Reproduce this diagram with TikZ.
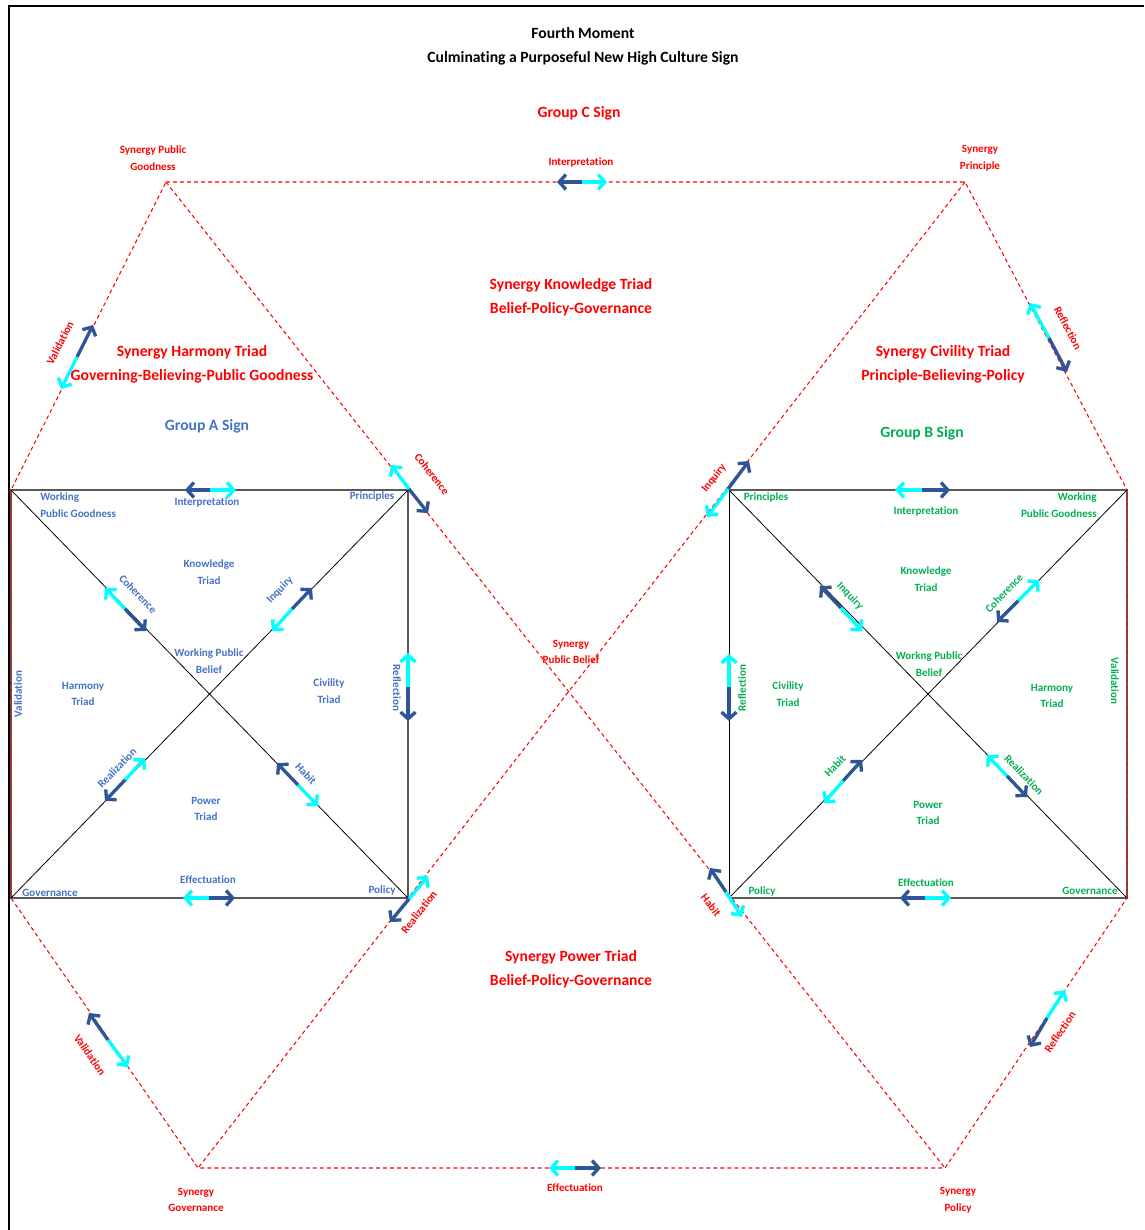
\documentclass[tikz,border=0pt]{standalone}
\usepackage{fontspec}
\setmainfont{Carlito}[Ligatures=NoCommon]
\usetikzlibrary{arrows.meta}
\definecolor{signred}{HTML}{FF0000}
\definecolor{signblue}{HTML}{4472C4}
\definecolor{signgreen}{HTML}{00B050}
\definecolor{darkarrow}{HTML}{2F5597}
\definecolor{lightarrow}{HTML}{00FFFF}

% two coloured halves from a middle point
\newcommand{\twoway}[5]{%
  \draw[halfarrow,#3] #1 -- #2;
  \draw[halfarrow,#5] #1 -- #4;}

\begin{document}
\begin{tikzpicture}[x=0.02cm,y=-0.02cm,
    small/.style={font=\fontsize{6.3}{9.4}\selectfont\bfseries,align=center,inner sep=0pt},
    big/.style={font=\fontsize{8.9}{13.6}\selectfont\bfseries,align=center,inner sep=0pt},
    edge/.style={draw=black!65,line width=1pt},
    diag/.style={draw=black,line width=0.45pt},
    syn/.style={draw=signred,line width=0.6pt,dash pattern=on 2.2pt off 1.8pt},
    halfarrow/.style={line width=1.9pt,-{Straight Barb[length=3.8pt,width=8.5pt]}}]
  \useasboundingbox (0,0) rectangle (1144,1230);
  \draw[line width=1.2pt] (1144,6) -- (9,6) -- (9,1230);

  % corners of the two signs and of the synergy sign
  \coordinate (aGood) at (11,490);
  \coordinate (aPrin) at (408,490);
  \coordinate (aGov) at (11,898);
  \coordinate (aPol) at (408,898);
  \coordinate (bPrin) at (729,490);
  \coordinate (bGood) at (1127,490);
  \coordinate (bPol) at (729,898);
  \coordinate (bGov) at (1127,898);
  \coordinate (sGood) at (166,182);
  \coordinate (sPrin) at (965,182);
  \coordinate (sGov) at (198,1168);
  \coordinate (sPol) at (945,1168);

  % Group A square
  \draw[edge] (aGood) -- (aPrin) -- (aPol) -- (aGov) -- cycle;
  \draw[diag] (aGood) -- (aPol);
  \draw[diag] (aGov) -- (aPrin);
  % Group B square
  \draw[edge] (bPrin) -- (bGood) -- (bGov) -- (bPol);
  \draw[diag] (bPol) -- (bPrin);
  \draw[diag] (bPrin) -- (bGov);
  \draw[diag] (bPol) -- (bGood);
  % Group C sign
  \draw[syn] (sGood) -- (sPrin) -- (bGood) -- (bGov) -- (sPol) -- (sGov) -- (aGov) -- (aGood) -- cycle;
  \draw[syn] (sGood) -- (sPol);
  \draw[syn] (sPrin) -- (sGov);

  % arrows of Group C
  \twoway{(582,182)}{(557,182)}{darkarrow}{(607,182)}{lightarrow}
  \twoway{(77,357)}{(93,325)}{darkarrow}{(61,389)}{lightarrow}
  \twoway{(1049,338)}{(1030,303)}{lightarrow}{(1067,372)}{darkarrow}
  \twoway{(409,489)}{(391,465)}{lightarrow}{(428,513)}{darkarrow}
  \twoway{(728,489)}{(749,461)}{darkarrow}{(707,517)}{lightarrow}
  \twoway{(409,899)}{(428,876)}{lightarrow}{(390,922)}{darkarrow}
  \twoway{(726,892)}{(710,868)}{darkarrow}{(742,917)}{lightarrow}
  \twoway{(108,1040)}{(89,1013)}{darkarrow}{(128,1067)}{lightarrow}
  \twoway{(1047,1018)}{(1065,990)}{lightarrow}{(1030,1047)}{darkarrow}
  \twoway{(575,1168)}{(549,1168)}{lightarrow}{(601,1168)}{darkarrow}
  % arrows of Group A
  \twoway{(210,490)}{(185,490)}{darkarrow}{(236,490)}{lightarrow}
  \twoway{(209,898)}{(183,898)}{lightarrow}{(235,898)}{darkarrow}
  \twoway{(408,687)}{(408,653)}{lightarrow}{(408,721)}{darkarrow}
  \twoway{(125,609)}{(105,588)}{lightarrow}{(146,631)}{darkarrow}
  \twoway{(292,609)}{(312,588)}{darkarrow}{(272,631)}{lightarrow}
  \twoway{(125,780)}{(145,758)}{lightarrow}{(105,801)}{darkarrow}
  \twoway{(298,785)}{(277,763)}{darkarrow}{(318,806)}{lightarrow}
  % arrows of Group B
  \twoway{(922,490)}{(895,490)}{lightarrow}{(950,490)}{darkarrow}
  \twoway{(925,898)}{(900,898)}{darkarrow}{(951,898)}{lightarrow}
  \twoway{(729,687)}{(729,654)}{lightarrow}{(729,721)}{darkarrow}
  \twoway{(841,608)}{(820,586)}{darkarrow}{(862,631)}{lightarrow}
  \twoway{(1018,601)}{(1039,580)}{lightarrow}{(997,622)}{darkarrow}
  \twoway{(843,781)}{(862,760)}{darkarrow}{(824,803)}{lightarrow}
  \twoway{(1007,776)}{(987,755)}{lightarrow}{(1027,797)}{darkarrow}

  % headings
  \node[big] (title) at (583,46) {Fourth Moment\\Culminating a Purposeful New High Culture Sign};
  \node[big,signred] (groupC) at (579,113) {Group C Sign};
  \node[big,signblue] (groupA) at (207,426) {Group A Sign};
  \node[big,signgreen] (groupB) at (922,433) {Group B Sign};
  \node[big,signred] (knowC) at (571,297) {Synergy Knowledge Triad\\Belief-Policy-Governance};
  \node[big,signred] (harmC) at (192,364) {Synergy Harmony Triad\\Governing-Believing-Public Goodness};
  \node[big,signred] (civC) at (943,364) {Synergy Civility Triad\\Principle-Believing-Policy};
  \node[big,signred] (powC) at (571,969) {Synergy Power Triad\\Belief-Policy-Governance};

  % Group C labels
  \begin{scope}[every node/.style={small,signred}]
    \node (sGoodL) at (153,158) {Synergy Public\\Goodness};
    \node (sPrinL) at (980,158) {Synergy\\Principle};
    \node (sGovL) at (196,1200) {Synergy\\Governance};
    \node (sPolL) at (958,1200) {Synergy\\Policy};
    \node (sBelL) at (571,652) {Synergy\\Public Belief};
    \node (cInt) at (581,162) {Interpretation};
    \node (cEff) at (575,1188) {Effectuation};
    \node[rotate=63] (cVal) at (60,343) {Validation};
    \node[rotate=-62] (cRef) at (1068,328) {Reflection};
    \node[rotate=-52] (cCoh) at (432,474) {Coherence};
    \node[rotate=52] (cInq) at (714,478) {Inquiry};
    \node[rotate=52] (cRea) at (419,912) {Realization};
    \node[rotate=-52] (cHab) at (711,905) {Habit};
    \node[rotate=-55] (cVal2) at (90,1055) {Validation};
    \node[rotate=56] (cRef2) at (1060,1032) {Reflection};
  \end{scope}

  % Group A labels
  \begin{scope}[every node/.style={small,signblue}]
    \node[anchor=west,align=left] (aGoodL) at (40,505) {Working\\Public Goodness};
    \node (aPrinL) at (372,496) {Principles};
    \node (aGovL) at (50,893) {Governance};
    \node (aPolL) at (382,890) {Policy};
    \node (aBelL) at (209,661) {Working Public\\Belief};
    \node (aKnow) at (209,572) {Knowledge\\Triad};
    \node (aHarm) at (83,694) {Harmony\\Triad};
    \node (aCiv) at (329,691) {Civility\\Triad};
    \node (aPow) at (206,809) {Power\\Triad};
    \node (aInt) at (207,502) {Interpretation};
    \node (aEff) at (208,880) {Effectuation};
    \node[rotate=90] (aVal) at (18,694) {Validation};
    \node[rotate=-90] (aRef) at (397,688) {Reflection};
    \node[rotate=-46] (aCoh) at (138,594) {Coherence};
    \node[rotate=46] (aInq) at (280,590) {Inquiry};
    \node[rotate=46] (aRea) at (117,768) {Realization};
    \node[rotate=-46] (aHab) at (306,774) {Habit};
  \end{scope}

  % Group B labels
  \begin{scope}[every node/.style={small,signgreen}]
    \node (bPrinL) at (766,497) {Principles};
    \node[anchor=east,align=right] (bGoodL) at (1097,505) {Working\\Public Goodness};
    \node (bPolL) at (762,891) {Policy};
    \node (bGovL) at (1090,891) {Governance};
    \node (bBelL) at (929,664) {Workng Public\\Belief};
    \node (bKnow) at (926,579) {Knowledge\\Triad};
    \node (bCiv) at (788,694) {Civility\\Triad};
    \node (bHarm) at (1052,696) {Harmony\\Triad};
    \node (bPow) at (928,813) {Power\\Triad};
    \node (bInt) at (926,511) {Interpretation};
    \node (bEff) at (926,883) {Effectuation};
    \node[rotate=90] (bRef) at (742,688) {Reflection};
    \node[rotate=-90] (bVal) at (1115,681) {Validation};
    \node[rotate=-46] (bInq) at (850,596) {Inquiry};
    \node[rotate=46] (bCoh) at (1004,593) {Coherence};
    \node[rotate=46] (bHab) at (835,766) {Habit};
    \node[rotate=-46] (bRea) at (1024,775) {Realization};
  \end{scope}
\end{tikzpicture}
\end{document}
